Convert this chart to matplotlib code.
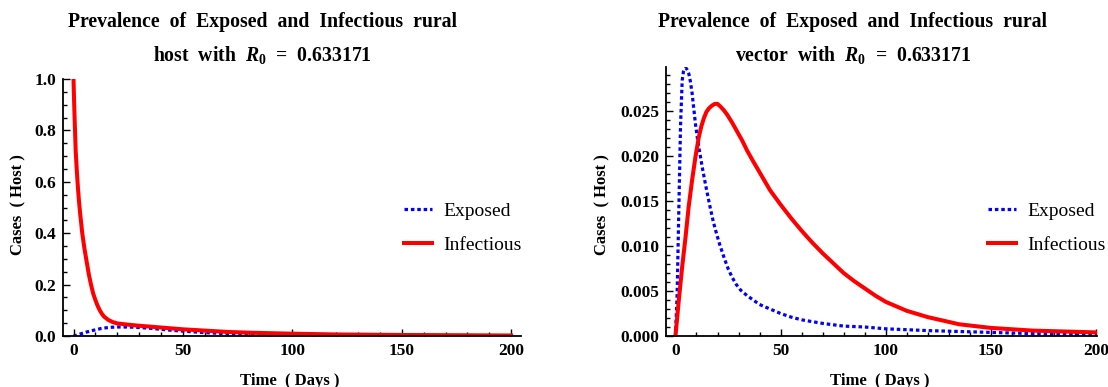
import matplotlib
matplotlib.use("Agg")
import matplotlib.pyplot as plt
from matplotlib.ticker import MultipleLocator, FormatStrFormatter

plt.rcParams['font.family'] = ['Liberation Serif', 'DejaVu Serif']
plt.rcParams['mathtext.fontset'] = 'custom'
plt.rcParams['mathtext.rm'] = 'Liberation Serif:bold'
plt.rcParams['mathtext.bf'] = 'Liberation Serif:bold'
plt.rcParams['mathtext.it'] = 'Liberation Serif:italic:bold'

# Host compartments (fraction of host population)
host_exp_t = [0, 1, 2, 3.5, 5, 7.5, 10, 12.5, 15, 17.5, 20, 25, 30, 35, 40, 45, 50,
              55, 60, 70, 80, 90, 100, 120, 150, 175, 200]
host_exp = [0, 0.002, 0.005, 0.009, 0.013, 0.019, 0.024, 0.029, 0.032, 0.034,
            0.035, 0.035, 0.033, 0.030, 0.026, 0.022, 0.019, 0.016, 0.013, 0.009,
            0.006, 0.004, 0.003, 0.0015, 0.0006, 0.0003, 0.0001]
host_inf_t = [0, 0.25, 0.5, 1, 1.5, 2, 2.5, 3, 3.5, 4, 5, 6, 7, 8, 9, 10, 11, 12, 13,
              14, 16, 18, 20, 25, 30, 40, 50, 60, 70, 80, 100, 120, 150, 175, 200]
host_inf = [1.0, 0.92, 0.85, 0.72, 0.645, 0.58, 0.525, 0.48, 0.44, 0.40, 0.34, 0.29,
            0.24, 0.20, 0.165, 0.14, 0.118, 0.10, 0.086, 0.075, 0.062, 0.054, 0.049,
            0.044, 0.040, 0.033, 0.026, 0.021, 0.016, 0.013, 0.009, 0.006, 0.004,
            0.003, 0.002]

# Vector compartments
vec_exp_t = [0, 0.8, 1.6, 2.4, 3.2, 3.8, 4.3, 4.8, 5.3, 5.8, 6.3, 7.1, 7.9, 8.7, 9.5,
             10.3, 11.1, 12.7, 14, 15, 16.5, 18, 19.5, 21, 23, 25, 27, 29, 31, 34,
             37, 40, 45, 50, 55, 60, 70, 80, 90, 100, 120, 150, 180, 200]
vec_exp = [0, 0.0047, 0.014, 0.0233, 0.0284, 0.0294, 0.0297, 0.0298, 0.0297, 0.0295,
           0.0292, 0.0283, 0.0270, 0.0253, 0.0236, 0.0222, 0.0210, 0.0188, 0.0172,
           0.0160, 0.0143, 0.0127, 0.0114, 0.0102, 0.0088, 0.0075, 0.0065, 0.0057,
           0.0051, 0.0045, 0.0040, 0.0035, 0.0030, 0.0025, 0.0021, 0.0018, 0.0014,
           0.0011, 0.0010, 0.0008, 0.0006, 0.0004, 0.0002, 0.0001]
vec_inf_t = [0, 1.6, 3.2, 4.8, 6.3, 7.9, 9.5, 11.1, 12.3, 13.5, 14.7, 15.9, 17.3,
             18.7, 20, 21.4, 23, 24.6, 27, 29.4, 31.8, 34.1, 37, 40.5, 45, 50, 55,
             60, 65, 70, 75, 80, 85, 90, 95, 100, 110, 120, 135, 150, 170, 200]
vec_inf = [0, 0.004, 0.0077, 0.011, 0.0144, 0.0173, 0.0199, 0.0221, 0.0233, 0.0242,
           0.0249, 0.0253, 0.0256, 0.0258, 0.0258, 0.0255, 0.0251, 0.0246, 0.0237,
           0.0227, 0.0217, 0.0206, 0.0194, 0.0180, 0.0162, 0.0146, 0.0131, 0.0117,
           0.0104, 0.0092, 0.0081, 0.0070, 0.0061, 0.0053, 0.0045, 0.0038, 0.0028,
           0.0021, 0.0013, 0.0009, 0.0006, 0.0004]

titles = ["Prevalence  of  Exposed  and  Infectious  rural\nhost  with  $R_0$  =  0.633171",
          "Prevalence  of  Exposed  and  Infectious  rural\nvector  with  $R_0$  =  0.633171"]

W, H = 1108, 387
fig = plt.figure(figsize=(W / 100, H / 100), dpi=100)


def fx(px):
    return px / W


def fy(py):
    return 1 - py / H


ax1 = fig.add_axes([fx(63), fy(336), fx(521 - 63), fy(79) - fy(336)])
ax2 = fig.add_axes([fx(666), fy(336), fx(1097 - 666), fy(67) - fy(336)])

exp_style = dict(color=(0, 0, 1), lw=2.3, linestyle=(0, (1.1, 0.9)),
                 dash_capstyle='butt', solid_capstyle='butt')
inf_style = dict(color=(1, 0, 0), lw=2.9, solid_joinstyle='round')

ax1.plot(host_exp_t, host_exp, label="Exposed", **exp_style)
ax1.plot(host_inf_t, host_inf, label="Infectious", **inf_style)
ax2.plot(vec_exp_t, vec_exp, label="Exposed", **exp_style)
ax2.plot(vec_inf_t, vec_inf, label="Infectious", **inf_style)

ax1.set_xlim(-4.8, 204.5)
ax1.set_ylim(0, 1.0)
ax2.set_xlim(-4.5, 200.5)
ax2.set_ylim(0, 0.0299)

ax1.yaxis.set_major_locator(MultipleLocator(0.2))
ax1.yaxis.set_minor_locator(MultipleLocator(0.05))
ax1.yaxis.set_major_formatter(FormatStrFormatter('%.1f'))
ax2.yaxis.set_major_locator(MultipleLocator(0.005))
ax2.yaxis.set_minor_locator(MultipleLocator(0.001))
ax2.yaxis.set_major_formatter(FormatStrFormatter('%.3f'))

for ax in (ax1, ax2):
    ax.xaxis.set_major_locator(MultipleLocator(50))
    ax.xaxis.set_minor_locator(MultipleLocator(10))
    for s in ('top', 'right'):
        ax.spines[s].set_visible(False)
    for s in ('left', 'bottom'):
        ax.spines[s].set_linewidth(1.3)
    ax.tick_params(which='both', direction='in', width=1.0, labelsize=12.5)
    ax.tick_params(which='major', length=5, pad=5)
    ax.tick_params(which='minor', length=3)
    for lab in ax.get_xticklabels() + ax.get_yticklabels():
        lab.set_fontweight('bold')
    ax.patch.set_alpha(0)

# axis titles
fig.text(fx(290), fy(381), "Time  ( Days )", ha='center', va='center',
         fontsize=12, fontweight='bold')
fig.text(fx(880), fy(381), "Time  ( Days )", ha='center', va='center',
         fontsize=12, fontweight='bold')
fig.text(fx(18), fy(205), "Cases  ( Host )", ha='center', va='center',
         fontsize=12, fontweight='bold', rotation=90)
fig.text(fx(602), fy(205), "Cases  ( Host )", ha='center', va='center',
         fontsize=12, fontweight='bold', rotation=90)

# plot headings
for cx, t in zip((262, 853), titles):
    fig.text(fx(cx), fy(39), t, ha='center', va='center', fontsize=14.2,
             fontweight='bold', linespacing=1.65)

# legends
for ax, lx in ((ax1, 404), (ax2, 988)):
    ax.legend(loc='upper left', bbox_to_anchor=(fx(lx), fy(202)),
              bbox_transform=fig.transFigure, frameon=False, fontsize=14,
              borderpad=0, borderaxespad=0, handlelength=1.45,
              handletextpad=0.57, labelspacing=0.85)

fig.savefig("out.png", dpi=100)
